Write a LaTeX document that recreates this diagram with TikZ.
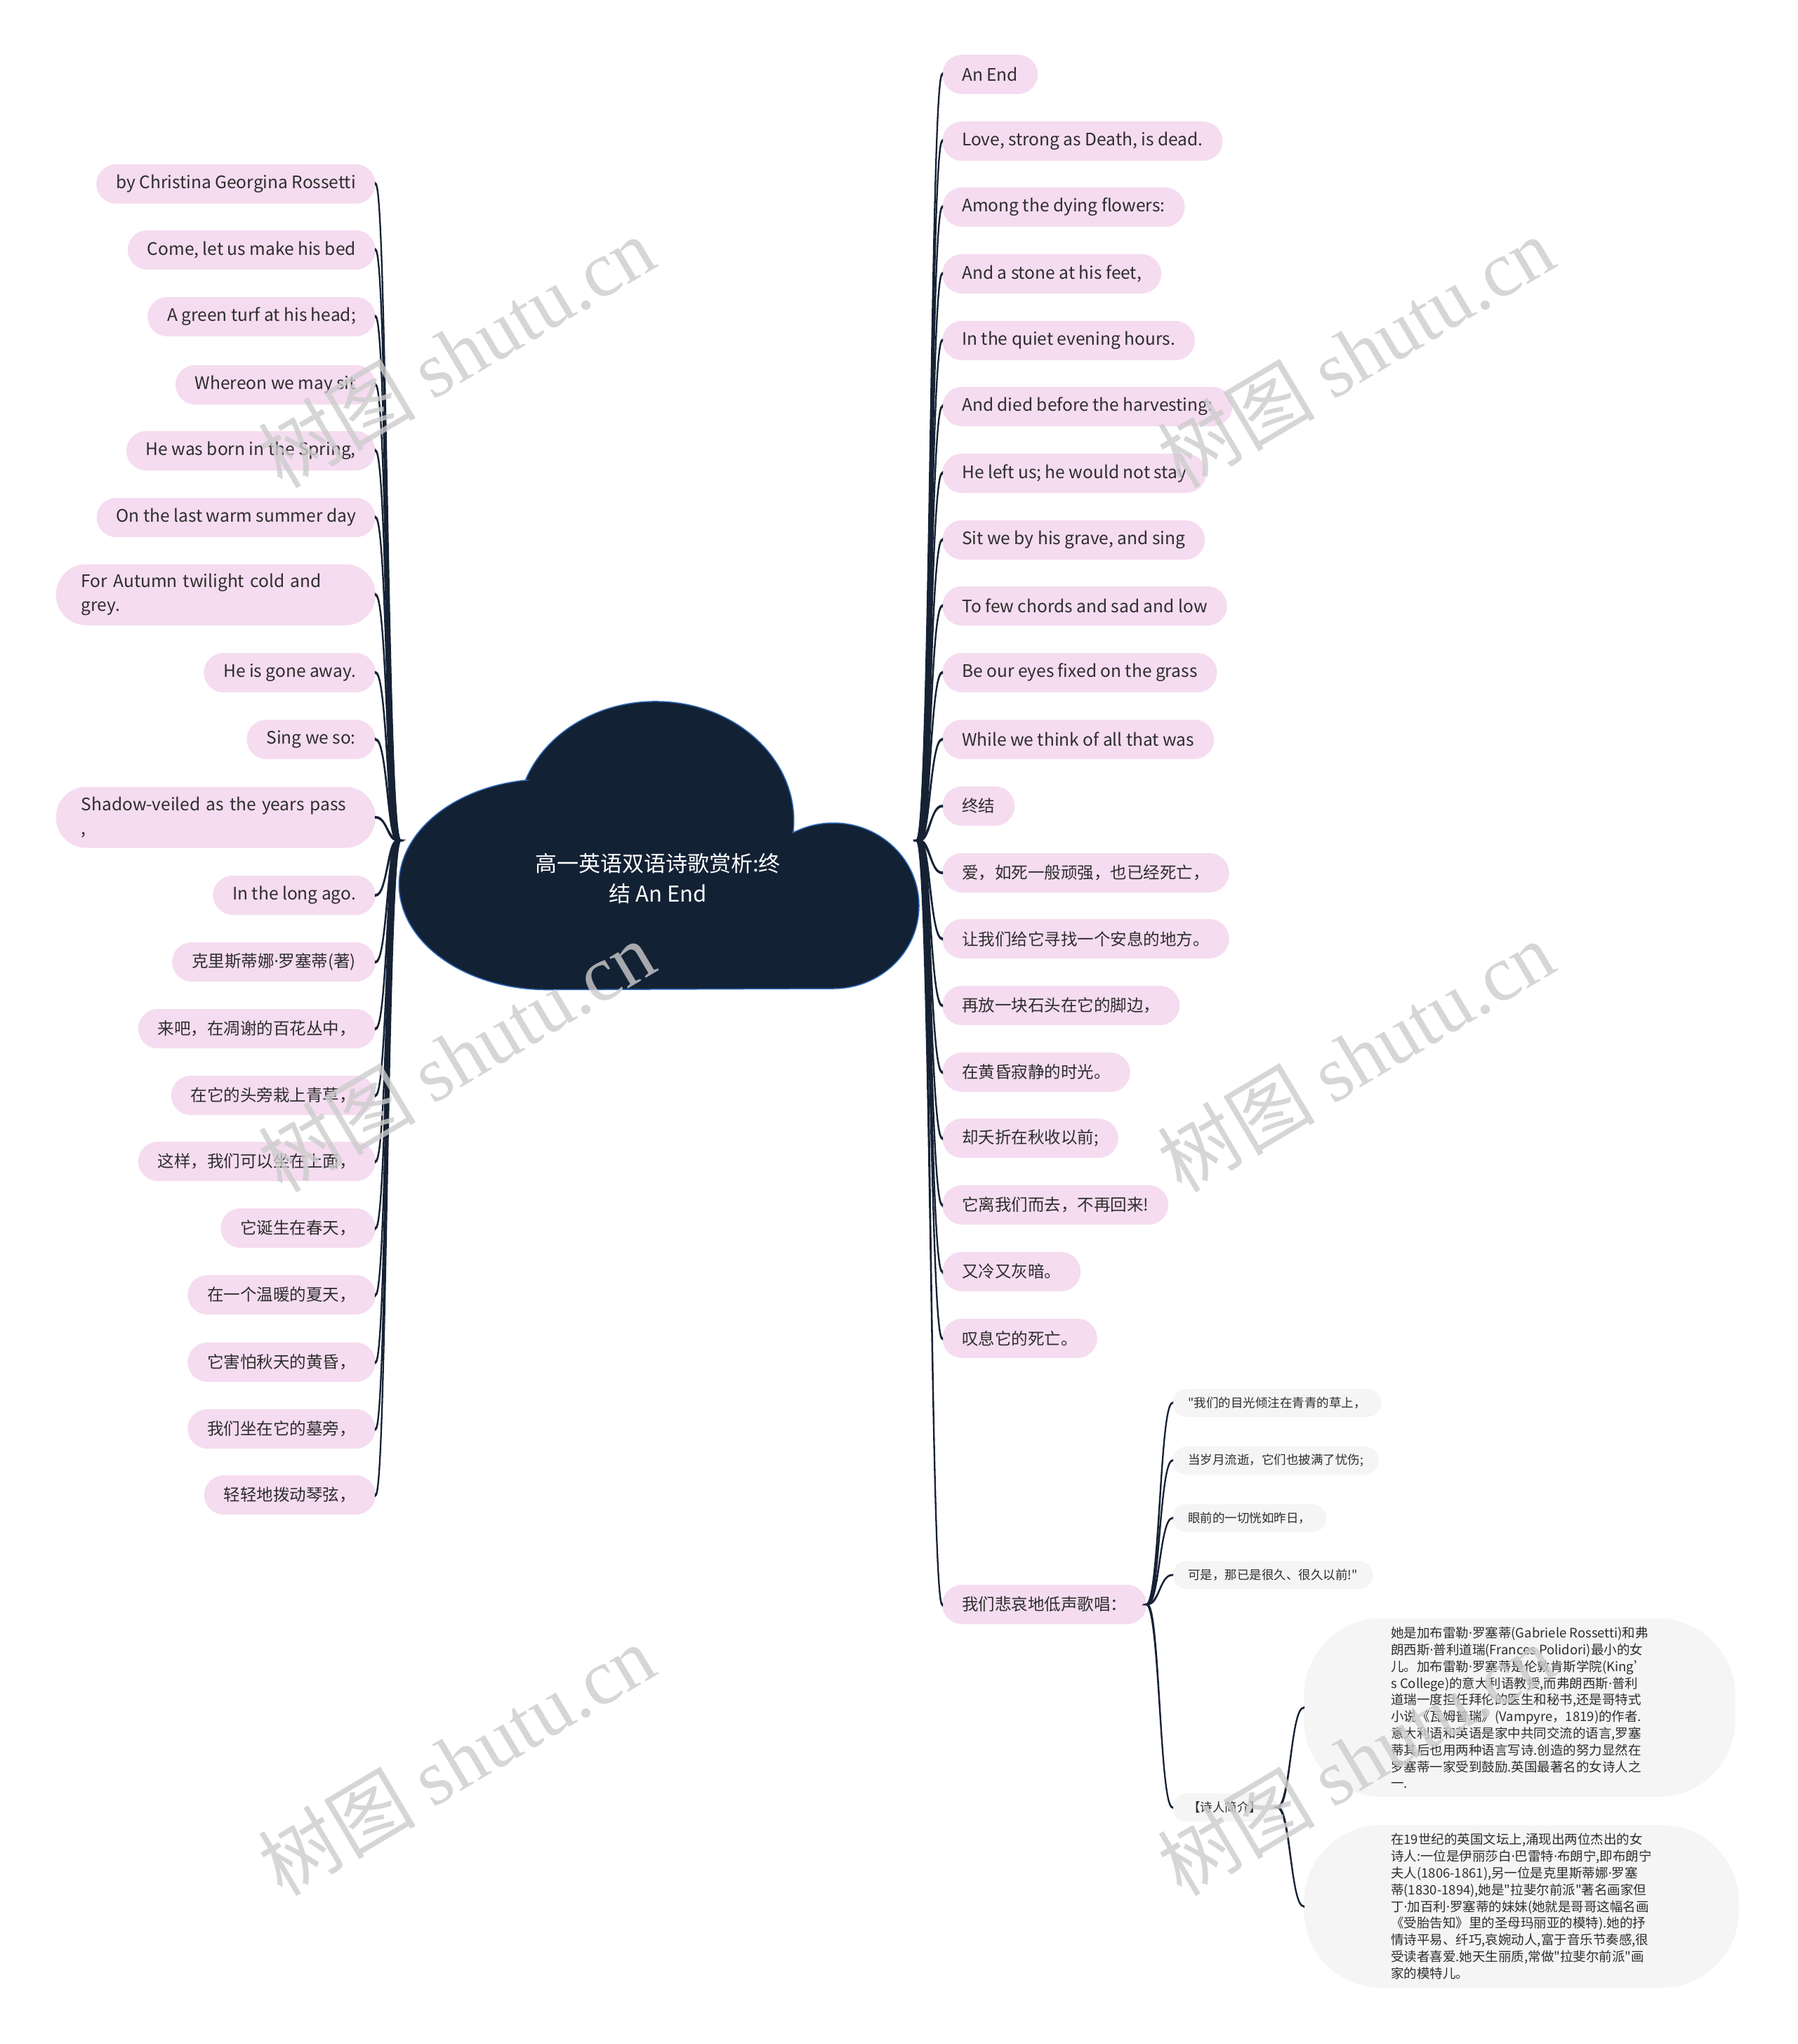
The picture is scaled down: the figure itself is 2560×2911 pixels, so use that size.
\documentclass[tikz,border=0pt]{standalone}
\usepackage{fontspec}
\setmainfont{Noto Sans CJK SC}[Ligatures=TeXOff]
\newfontfamily\wmserif{Liberation Serif}
\newfontfamily\latinfont{Noto Sans}
\usetikzlibrary{calc}

\definecolor{cloudfill}{RGB}{19,33,52}
\definecolor{cloudedge}{RGB}{45,105,185}
\definecolor{pinkfill}{RGB}{245,220,240}
\definecolor{greyfill}{RGB}{245,245,245}
\definecolor{inkcol}{RGB}{45,45,45}
\definecolor{twigcol}{RGB}{22,34,52}

% narrow middle dot
\newcommand{\md}{{\latinfont ·}}

% tapered connector: from, to, half width at start, half width at end
\newcommand{\twig}[4]{%
  \filldraw[twig] let \p1=(#1), \p2=(#2), \n1={sign(\x2-\x1)*sign(\y2-\y1)} in
    ({\x1-#3}, \y1) .. controls ({(\x1+\x2)/2}, \y1) and ({(\x1+\x2)/2}, {\y2+(\n1)*#4}) .. (\x2, {\y2+(\n1)*#4})
    -- (\x2, {\y2-(\n1)*#4}) .. controls ({(\x1+\x2)/2}, {\y2-(\n1)*#4}) and ({(\x1+\x2)/2}, \y1) .. ({\x1+#3}, \y1) -- cycle;}

\begin{document}
\begin{tikzpicture}[x=1pt, y=1pt]
    % Styles for the poem map
    \tikzset{
        leaf/.style={fill=pinkfill, text=inkcol, rounded corners=28pt, minimum height=56pt, inner xsep=28pt, inner ysep=0pt, font=\fontsize{24.5}{28}\selectfont},
        leafcn/.style={leaf, font=\fontsize{23.5}{28}\selectfont},
        leafwide/.style={leaf, rounded corners=43pt, minimum height=87pt, inner xsep=36pt, align=left, text width=383pt, font=\fontsize{24.5}{34}\selectfont},
        sub/.style={fill=greyfill, text=inkcol, rounded corners=20pt, minimum height=40pt, inner xsep=22pt, inner ysep=0pt, font=\fontsize{17.5}{21}\selectfont},
        note/.style={fill=greyfill, text=inkcol, rounded corners=110pt, inner xsep=124pt, inner ysep=12pt, align=left, font=\fontsize{18.5}{23.8}\selectfont},
        title/.style={text=white, align=center, font=\fontsize{31}{43}\selectfont},
        twig/.style={fill=twigcol, draw=twigcol, line width=2.2pt},
        stamp/.style={text=black!20, text opacity=0.8, rotate=30.7, inner sep=0pt}
    }

    \useasboundingbox (0,0) rectangle (2560,-2911);

    % Cloud in the middle
    \fill[cloudfill, draw=cloudedge, line width=1.5pt]
        (750,-1111) arc[start angle=98, end angle=270, x radius=211, y radius=150]
        -- (1187,-1408) arc[start angle=-90, end angle=118, x radius=122, y radius=118]
        arc[start angle=-5.7, end angle=160, x radius=197, y radius=170] -- cycle;
    \node[title] (title) at (937,-1251) {高一英语双语诗歌赏析:终\\结 An End};
    \coordinate (rootR) at (1308,-1197);
    \coordinate (rootL) at (568,-1197);

    % Right branch
    \foreach \i/\y/\kind/\txt in {
        1/106/leaf/{An End},
        2/201/leaf/{Love, strong as Death, is dead.},
        3/295/leaf/{Among the dying flowers:},
        4/390/leaf/{And a stone at his feet,},
        5/485/leaf/{In the quiet evening hours.},
        6/579/leaf/{And died before the harvesting:},
        7/674/leaf/{He left us; he would not stay},
        8/769/leaf/{Sit we by his grave, and sing},
        9/863/leaf/{To few chords and sad and low},
        10/958/leaf/{Be our eyes fixed on the grass},
        11/1053/leaf/{While we think of all that was},
        12/1148/leafcn/{终结},
        13/1243/leafcn/{爱，如死一般顽强，也已经死亡，},
        14/1337/leafcn/{让我们给它寻找一个安息的地方。},
        15/1432/leafcn/{再放一块石头在它的脚边，},
        16/1527/leafcn/{在黄昏寂静的时光。},
        17/1621/leafcn/{却夭折在秋收以前;},
        18/1716/leafcn/{它离我们而去，不再回来!},
        19/1811/leafcn/{又冷又灰暗。},
        20/1906/leafcn/{叹息它的死亡。},
        21/2285/leafcn/{我们悲哀地低声歌唱：}%
    } {
        \node[\kind, anchor=west] (R\i) at (1342,-\y) {\txt};
    }

    % Left branch
    \foreach \i/\y/\kind/\txt in {
        1/262/leaf/{by Christina Georgina Rossetti},
        2/356/leaf/{Come, let us make his bed},
        3/451/leaf/{A green turf at his head;},
        4/548/leaf/{Whereon we may sit},
        5/642/leaf/{He was born in the Spring,},
        6/737/leaf/{On the last warm summer day},
        7/847/leafwide/{For Autumn twilight cold and\\grey.},
        8/958/leaf/{He is gone away.},
        9/1053/leaf/{Sing we so:},
        10/1164/leafwide/{Shadow-veiled as the years pass\\,},
        11/1275/leaf/{In the long ago.},
        12/1370/leafcn/{克里斯蒂娜\md 罗塞蒂(著)},
        13/1465/leafcn/{来吧，在凋谢的百花丛中，},
        14/1560/leafcn/{在它的头旁栽上青草，},
        15/1654/leafcn/{这样，我们可以坐在上面，},
        16/1749/leafcn/{它诞生在春天，},
        17/1844/leafcn/{在一个温暖的夏天，},
        18/1940/leafcn/{它害怕秋天的黄昏，},
        19/2035/leafcn/{我们坐在它的墓旁，},
        20/2129/leafcn/{轻轻地拨动琴弦，}%
    } {
        \node[\kind, anchor=east] (L\i) at (535,-\y) {\txt};
    }

    % Children of the last right node
    \foreach \i/\y/\txt in {
        1/1998/{"我们的目光倾注在青青的草上，},
        2/2080/{当岁月流逝，它们也披满了忧伤;},
        3/2162/{眼前的一切恍如昨日，},
        4/2243/{可是，那已是很久、很久以前!"}%
    } {
        \node[sub, anchor=west] (S\i) at (1670,-\y) {\txt};
    }
    \node[sub, anchor=west] (poet) at (1670,-2574) {【诗人简介】};

    \node[note, anchor=west] (bio1) at (1857,-2432) {她是加布雷勒\md 罗塞蒂(Gabriele Rossetti)和弗\\
        朗西斯\md 普利道瑞(Frances Polidori)最小的女\\
        儿。加布雷勒\md 罗塞蒂是伦敦肯斯学院(King’\\
        s College)的意大利语教授,而弗朗西斯\md 普利\\
        道瑞一度担任拜伦的医生和秘书,还是哥特式\\
        小说《瓦姆普瑞》(Vampyre，1819)的作者.\\
        意大利语和英语是家中共同交流的语言,罗塞\\
        蒂其后也用两种语言写诗.创造的努力显然在\\
        罗塞蒂一家受到鼓励.英国最著名的女诗人之\\
        一.};
    \node[note, anchor=west] (bio2) at (1857,-2715) {在19世纪的英国文坛上,涌现出两位杰出的女\\
        诗人:一位是伊丽莎白\md 巴雷特\md 布朗宁,即布朗宁\\
        夫人(1806-1861),另一位是克里斯蒂娜\md 罗塞\\
        蒂(1830-1894),她是"拉斐尔前派"著名画家但\\
        丁\md 加百利\md 罗塞蒂的妹妹(她就是哥哥这幅名画\\
        《受胎告知》里的圣母玛丽亚的模特).她的抒\\
        情诗平易、纤巧,哀婉动人,富于音乐节奏感,很\\
        受读者喜爱.她天生丽质,常做"拉斐尔前派"画\\
        家的模特儿。};

    % Connectors
    \foreach \i in {1,...,21} {\twig{rootR}{R\i.west}{2.5pt}{0.8pt}}
    \foreach \i in {1,...,20} {\twig{rootL}{L\i.east}{2.5pt}{0.8pt}}
    \foreach \i in {1,...,4} {\twig{R21.east}{S\i.west}{1.0pt}{0.3pt}}
    \twig{R21.east}{poet.west}{1.0pt}{0.3pt}
    \twig{poet.east}{bio1.west}{1.0pt}{0.3pt}
    \twig{poet.east}{bio2.west}{1.0pt}{0.3pt}

    % Watermarks
    \foreach \wx/\wy [count=\k] in {650/501, 1931/501, 650/1504, 1931/1504, 650/2506, 1931/2506} {
        \node[stamp] (wm\k) at (\wx,-\wy) {\fontsize{112}{112}\selectfont 树图 {\wmserif shutu.cn}};
    }
\end{tikzpicture}
\end{document}
